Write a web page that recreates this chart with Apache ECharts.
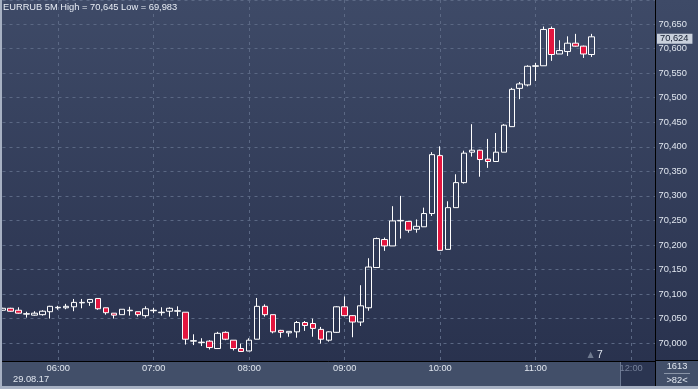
<!DOCTYPE html>
<html><head><meta charset="utf-8">
<script src="https://cdn.jsdelivr.net/npm/echarts@6/dist/echarts.min.js"></script>
<style>html,body{margin:0;padding:0;background:#424f69}#c{width:698px;height:389px}</style>
</head><body><div id="c"></div>
<script>
// 5-minute slots shown on the axis (05:25 .. 12:15)
const times = [
 '05:25','05:30','05:35','05:40','05:45','05:50','05:55',
 '06:00','06:05','06:10','06:15','06:20','06:25','06:30','06:35','06:40','06:45','06:50','06:55',
 '07:00','07:05','07:10','07:15','07:20','07:25','07:30','07:35','07:40','07:45','07:50','07:55',
 '08:00','08:05','08:10','08:15','08:20','08:25','08:30','08:35','08:40','08:45','08:50','08:55',
 '09:00','09:05','09:10','09:15','09:20','09:25','09:30','09:35','09:40','09:45','09:50','09:55',
 '10:00','10:05','10:10','10:15','10:20','10:25','10:30','10:35','10:40','10:45','10:50','10:55',
 '11:00','11:05','11:10','11:15','11:20','11:25','11:30','11:35','11:40','11:45','11:50','11:55',
 '12:00','12:05','12:10','12:15'
];
const opens = [
 70.067,70.071,70.067,70.059,70.057,70.058,70.064,
 70.072,70.072,70.074,70.082,70.083,70.091,70.072,70.061,70.058,70.066,70.064,70.056,
 70.066,70.062,70.065,70.065,70.063,70.004,70.001,70.004,69.989,70.022,70.006,69.989,
 69.984,70.008,70.075,70.058,70.026,70.021,70.023,70.042,70.040,70.028,70.006,70.022,
 70.074,70.056,70.043,70.072,70.154,70.211,70.198,70.249,70.248,70.232,70.237,70.264,
 70.382,70.191,70.276,70.327,70.389,70.393,70.375,70.370,70.389,70.441,70.519,70.526,
 70.564,70.565,70.641,70.589,70.594,70.611,70.605,70.588
];
const highs = [
 70.072,70.072,70.073,70.064,70.065,70.067,70.076,
 70.076,70.080,70.090,70.090,70.090,70.091,70.072,70.061,70.069,70.074,70.064,70.075,
 70.072,70.073,70.073,70.075,70.063,70.018,70.010,70.006,70.023,70.024,70.006,69.999,
 70.010,70.092,70.079,70.058,70.027,70.024,70.045,70.045,70.050,70.033,70.024,70.075,
 70.095,70.057,70.118,70.173,70.215,70.215,70.279,70.300,70.249,70.252,70.276,70.389,
 70.401,70.289,70.344,70.392,70.446,70.394,70.416,70.428,70.446,70.520,70.532,70.566,
 70.571,70.645,70.645,70.617,70.625,70.630,70.606,70.630
];
const lows = [
 70.066,70.064,70.060,70.052,70.056,70.056,70.050,
 70.068,70.069,70.065,70.071,70.076,70.068,70.058,70.050,70.058,70.056,70.054,70.052,
 70.061,70.056,70.054,70.055,69.997,69.996,69.994,69.987,69.988,70.006,69.985,69.983,
 69.984,70.008,70.054,70.020,70.011,70.013,70.011,70.025,70.013,69.999,70.003,70.021,
 70.055,70.012,70.035,70.066,70.154,70.188,70.198,70.213,70.225,70.225,70.237,70.259,
 70.189,70.191,70.276,70.325,70.380,70.339,70.357,70.370,70.389,70.441,70.497,70.523,
 70.534,70.565,70.575,70.589,70.585,70.604,70.581,70.583
];
const closes = [
 70.071,70.065,70.061,70.060,70.061,70.065,70.075,
 70.073,70.075,70.083,70.083,70.089,70.070,70.062,70.057,70.069,70.067,70.058,70.070,
 70.067,70.063,70.071,70.066,70.008,70.005,70.002,69.991,70.020,70.008,69.989,69.983,
 70.006,70.075,70.058,70.023,70.022,70.024,70.042,70.036,70.030,70.008,70.023,70.074,
 70.056,70.043,70.076,70.155,70.213,70.198,70.249,70.250,70.230,70.238,70.264,70.384,
 70.189,70.276,70.327,70.387,70.393,70.374,70.370,70.389,70.444,70.517,70.528,70.564,
 70.565,70.639,70.588,70.596,70.611,70.605,70.589,70.624
];
const hourLabels = ['06:00','07:00','08:00','09:00','10:00','11:00','12:00'];
const futureLabels = ['12:00'];
const lastPrice = 70.624;
const yMin = 69.9636, yMax = 70.699, yStep = 0.05;
const titleText = 'EURRUB 5M High = 70,645 Low = 69,983';

const FONT = "'Liberation Sans', Arial, sans-serif";
const FS = 9.3;
const candles = opens.map((o, i) => [o, closes[i], lows[i], highs[i]]);
const gridLine = { show: true, lineStyle: { color: '#5b6884', type: [3, 4], width: 1 } };

const chart = echarts.init(document.getElementById('c'), null, { renderer: 'canvas' });
chart.setOption({
  backgroundColor: '#424f69',
  animation: false,
  title: {
    text: titleText, left: 3, top: 3, padding: 0,
    textStyle: { color: '#e8edf5', fontSize: FS, fontWeight: 'normal', fontFamily: FONT }
  },
  grid: { left: 2.5, right: 43, top: 0, bottom: 28, containLabel: false },
  xAxis: {
    type: 'category', data: times, boundaryGap: false,
    axisLine: { show: true, lineStyle: { color: '#000000', width: 1 } },
    axisTick: { show: false },
    axisLabel: {
      interval: (i, v) => hourLabels.indexOf(v) >= 0,
      margin: 3, color: '#e0e6ef', fontSize: FS, fontFamily: FONT,
      formatter: v => futureLabels.indexOf(v) >= 0 ? '{f|' + v + '}' : v,
      rich: { f: { color: '#76819a', fontSize: FS, fontFamily: FONT } }
    },
    splitLine: Object.assign({ interval: (i, v) => hourLabels.indexOf(v) >= 0 }, gridLine)
  },
  yAxis: {
    type: 'value', position: 'right', scale: true,
    min: yMin, max: yMax, minInterval: yStep, maxInterval: yStep, splitNumber: 15,
    axisLine: { show: true, lineStyle: { color: '#000000', width: 1 } },
    axisTick: { show: false },
    axisLabel: {
      showMinLabel: false, showMaxLabel: false, margin: 3.5,
      color: '#e0e6ef', fontSize: FS, fontFamily: FONT,
      formatter: v => v.toFixed(3).replace('.', ',')
    },
    splitLine: gridLine
  },
  series: [{
    type: 'candlestick', data: candles, barWidth: 6, clip: true,
    itemStyle: {
      color: 'rgba(0,0,0,0)', color0: '#e3163f',
      borderColor: '#ffffff', borderColor0: '#ffffff', borderWidth: 1
    },
    markLine: {
      silent: true, symbol: ['none', 'none'], animation: false,
      lineStyle: { color: 'rgba(0,0,0,0)', width: 1, type: 'solid' },
      label: {
        show: true, position: 'end', distance: 2,
        formatter: () => lastPrice.toFixed(3).replace('.', ','),
        color: '#111a2e', backgroundColor: '#c9d0dc', padding: [1, 4, 0, 3],
        fontSize: FS, fontFamily: FONT, opacity: 1
      },
      emphasis: { disabled: true },
      data: [{ yAxis: lastPrice }]
    }
  }],
  graphic: [
    { type: 'rect', z: -10, silent: true, shape: { x: 0, y: 0, width: 698, height: 361 },
      style: { fill: new echarts.graphic.LinearGradient(0, 0, 0, 1, [
        { offset: 0, color: '#3e4a67' }, { offset: 1, color: '#29324e' }]) } },
    { type: 'rect', z: -5, silent: true, shape: { x: 620, y: 361, width: 35, height: 25 },
      style: { fill: '#2b3551' } },
    { type: 'line', z: -4, silent: true, shape: { x1: 620.5, y1: 361, x2: 620.5, y2: 386 },
      style: { stroke: '#6b7892', lineWidth: 1 } },
    { type: 'line', z: 10, silent: true, shape: { x1: 655.5, y1: 361, x2: 655.5, y2: 386 },
      style: { stroke: '#000000', lineWidth: 1 } },
    { type: 'line', z: 10, silent: true, shape: { x1: 655, y1: 360.5, x2: 698, y2: 360.5 },
      style: { stroke: '#000000', lineWidth: 1 } },
    { type: 'rect', z: 20, silent: true, shape: { x: 0, y: 0, width: 2, height: 389 },
      style: { fill: '#a7b1c3' } },
    { type: 'rect', z: 20, silent: true, shape: { x: 0, y: 386, width: 698, height: 3 },
      style: { fill: '#a7b1c3' } },
    { type: 'text', z: 20, silent: true, x: 13, y: 379,
      style: { text: '29.08.17', fill: '#e0e6ef', fontSize: FS, fontFamily: FONT, verticalAlign: 'middle' } },
    { type: 'text', z: 20, silent: true, x: 590.5, y: 355,
      style: { text: '▲', fill: '#6f7a8f', fontSize: 8, fontFamily: "'DejaVu Sans', sans-serif", align: 'center', verticalAlign: 'middle' } },
    { type: 'text', z: 20, silent: true, x: 597, y: 355,
      style: { text: '7', fill: '#e0e6ef', fontSize: FS + 1, fontFamily: FONT, verticalAlign: 'middle' } },
    { type: 'text', z: 20, silent: true, x: 677, y: 366.5,
      style: { text: '1613', fill: '#e0e6ef', fontSize: FS, fontFamily: FONT, align: 'center', verticalAlign: 'middle' } },
    { type: 'line', z: 20, silent: true, shape: { x1: 664, y1: 373.5, x2: 690, y2: 373.5 },
      style: { stroke: '#8a95a8', lineWidth: 1 } },
    { type: 'text', z: 20, silent: true, x: 677, y: 380,
      style: { text: '>82<', fill: '#e0e6ef', fontSize: FS, fontFamily: FONT, align: 'center', verticalAlign: 'middle' } }
  ]
});
</script></body></html>
